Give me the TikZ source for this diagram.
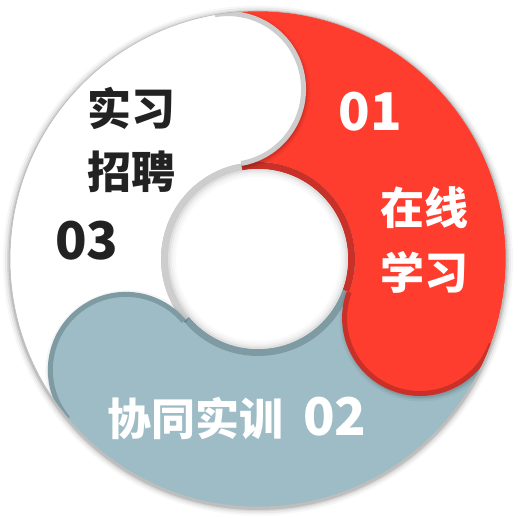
\documentclass[tikz,border=0pt]{standalone}
\usepackage{fontspec}
\newfontfamily\cjk{Noto Sans CJK SC}
\definecolor{segred}{HTML}{FF3D2F}
\definecolor{segredd}{HTML}{C83028}
\definecolor{segblue}{HTML}{9DBCC5}
\definecolor{segblued}{HTML}{7E9AA2}
\definecolor{segwhite}{HTML}{FFFFFF}
\definecolor{segwhited}{HTML}{CDCDCD}
\definecolor{inkdark}{HTML}{222222}

\begin{document}
\begin{tikzpicture}[
    x=1pt, y=1pt,
    cjklabel/.style={
        font=\cjk\bfseries\fontsize{44}{48}\selectfont,
        inner sep=0pt
    },
    numlabel/.style={
        font=\cjk\bfseries\fontsize{52}{56}\selectfont,
        inner sep=0pt
    }
]
\useasboundingbox (-258,-259) rectangle (260,259);

% Outer shadow
\foreach \r/\o in {255/0.03, 253/0.05, 251/0.08, 249.5/0.12}
    \fill[black, opacity=\o] (0,-1.5) circle (\r);

\begin{scope}
\clip (0,0) circle (248);

% Segment bodies (start/end angle)
\foreach \s/\e/\c/\d in {100/220/segwhite/segwhited,
                         -20/100/segred/segredd,
                         -140/-20/segblue/segblued} {
    \fill[\c] (\s:248) arc[start angle=\s, end angle=\e, radius=248]
        -- (\e:97) arc[start angle=\e, end angle=\s, radius=97] -- cycle;
    \fill[\d] (\s:97) arc[start angle=\s, end angle=\e, radius=97]
        -- (\e:90) arc[start angle=\e, end angle=\s, radius=90] -- cycle;
}

% Segment heads
\foreach \a/\b/\c/\d in {100/-80/segwhite/segwhited,
                         -20/-200/segred/segredd,
                         -140/-320/segblue/segblued} {
    \foreach \w/\o in {12/0.04, 8/0.06, 5/0.08}
        \draw[black, opacity=\o, line width=\w] ([shift={(1,-2)}]\a:248)
            arc[start angle=\a, end angle=\b, radius=75.5];
    \fill[\c] (\a:172.5) circle (75.5);
    \draw[\d, line width=5] (\a:248)
        arc[start angle=\a, end angle=\b, radius=75.5];
}
\end{scope}

% Hole
\fill[white] (0,0) circle (90);
\foreach \r/\o in {89/0.12, 87/0.07, 85/0.04, 83/0.02}
    \draw[black, opacity=\o, line width=2] (0,0) circle (\r);
\draw[gray!50, line width=0.6] (0,0) circle (248);

% Labels
\node[numlabel, text=white] (n01) at (112,147) {01};
\node[cjklabel, text=white] (zaixian) at (166,51) {在线};
\node[cjklabel, text=white] (xuexi) at (166,-13) {学习};
\node[cjklabel, text=inkdark] (shixi) at (-126,151) {实习};
\node[cjklabel, text=inkdark] (zhaopin) at (-126,87) {招聘};
\node[numlabel, text=inkdark] (n03) at (-171,18) {03};
\node[cjklabel, text=white] (xietong) at (-21,-159)
    {协同实训\hspace{0.45em}{\fontsize{52}{56}\selectfont 02}};

\end{tikzpicture}
\end{document}
